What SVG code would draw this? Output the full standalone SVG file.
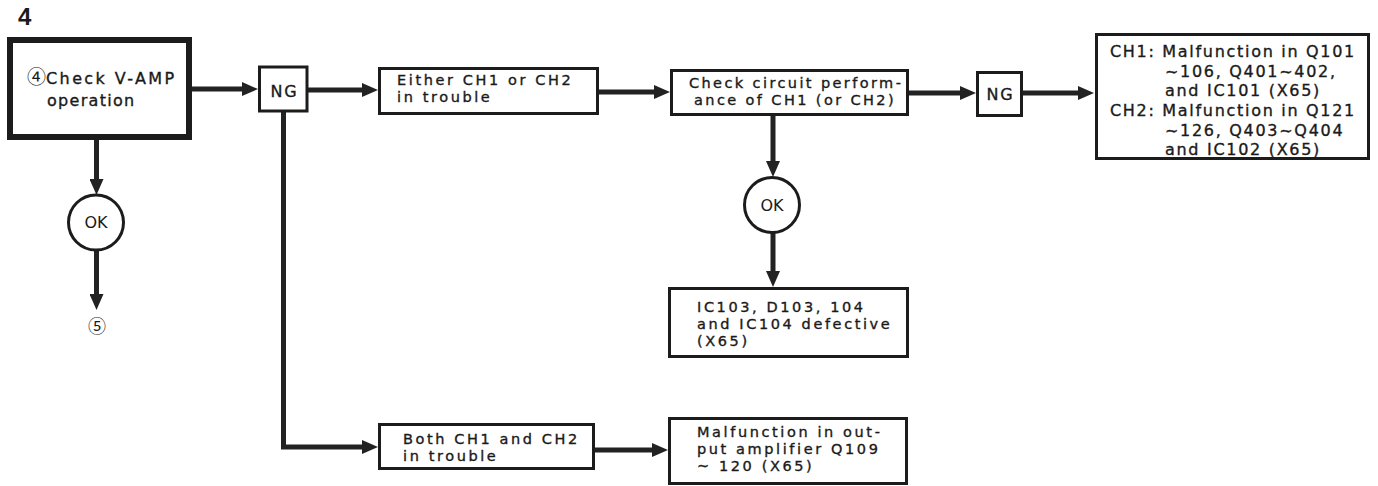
<svg xmlns="http://www.w3.org/2000/svg" width="1378" height="486" viewBox="0 0 1378 486">
<defs>
<style>
.bg{fill:#ffffff}
.box{fill:#ffffff;stroke:#1c1c1c;stroke-width:3}
.main{fill:#ffffff;stroke:#1c1c1c;stroke-width:6}
.circ{fill:#ffffff;stroke:#1c1c1c;stroke-width:3}
.ln{fill:none;stroke:#222;stroke-width:5}
.t{font-family:"DejaVu Sans","Noto Sans CJK JP",sans-serif;font-size:14.5px;letter-spacing:2.6px;fill:#1a1a1a;stroke:#1a1a1a;stroke-width:0.35px}
.tl{font-size:16px;letter-spacing:1.7px}
.cj{font-family:"Noto Sans CJK JP",sans-serif;letter-spacing:0;stroke-width:0}
.ok{font-family:"DejaVu Sans",sans-serif;font-size:16px;fill:#1a1a1a;text-anchor:middle}
.c{text-anchor:middle}
</style>
<marker id="ah" markerUnits="userSpaceOnUse" markerWidth="16" markerHeight="14" refX="2" refY="7" orient="auto">
<path d="M0,0 L16,7 L0,14 z" fill="#222"/>
</marker>
</defs>
<rect class="bg" x="0" y="0" width="1378" height="486"/>
<text x="18" y="25" font-family="Liberation Sans,Arial,sans-serif" font-weight="bold" font-size="24" fill="#1a1a1a">4</text>

<g id="connectors">
<line class="ln" x1="191" y1="89" x2="244" y2="89" marker-end="url(#ah)"/>
<line class="ln" x1="308" y1="90" x2="364" y2="90" marker-end="url(#ah)"/>
<line class="ln" x1="599" y1="92" x2="656" y2="92" marker-end="url(#ah)"/>
<line class="ln" x1="909" y1="93" x2="962" y2="93" marker-end="url(#ah)"/>
<line class="ln" x1="1023" y1="93" x2="1080" y2="93" marker-end="url(#ah)"/>
<line class="ln" x1="773" y1="116" x2="773" y2="163" marker-end="url(#ah)"/>
<line class="ln" x1="773" y1="232" x2="773" y2="273" marker-end="url(#ah)"/>
<line class="ln" x1="96.5" y1="140" x2="96.5" y2="181" marker-end="url(#ah)"/>
<line class="ln" x1="96.5" y1="250" x2="96.5" y2="296" marker-end="url(#ah)"/>
<polyline class="ln" points="283.5,112 283.5,447 364,447" marker-end="url(#ah)"/>
<line class="ln" x1="595" y1="450" x2="654" y2="450" marker-end="url(#ah)"/>
</g>

<g id="check-vamp">
<rect class="main" x="10" y="40" width="179" height="97"/>
<text class="t tl" x="27" y="84" style="letter-spacing:2.4px"><tspan class="cj" font-size="19">④</tspan>Check V-AMP</text>
<text class="t tl" x="47" y="106" style="letter-spacing:1.3px">operation</text>
</g>

<g id="ok1">
<circle class="circ" cx="96" cy="222.5" r="27.5"/>
<text class="ok" x="96" y="228">OK</text>
</g>

<g id="next5">
<text x="97" y="333" font-family="Noto Sans CJK JP,sans-serif" font-size="18" fill="#1a1a1a" text-anchor="middle">⑤</text>
</g>

<g id="ng1">
<rect class="box" x="259.5" y="67" width="47.5" height="44"/>
<text class="t tl c" x="284.5" y="97">NG</text>
</g>

<g id="either">
<rect class="box" x="379.5" y="68.5" width="218" height="45"/>
<text class="t" x="397" y="85">Either CH1 or CH2</text>
<text class="t" x="397" y="102">in trouble</text>
</g>

<g id="check-circuit">
<rect class="box" x="671.5" y="70.5" width="236" height="44"/>
<text class="t" x="689" y="88" style="letter-spacing:2.4px">Check circuit perform-</text>
<text class="t" x="694" y="105" style="letter-spacing:2.4px">ance of CH1 (or CH2)</text>
</g>

<g id="ng2">
<rect class="box" x="977.5" y="72.5" width="44" height="43"/>
<text class="t tl c" x="1000.5" y="100">NG</text>
</g>

<g id="malfunction-ch">
<rect class="box" x="1096.5" y="34.5" width="272" height="124"/>
<text class="t tl" x="1110" y="57">CH1: Malfunction in Q101</text>
<text class="t tl" x="1165" y="77">~106, Q401~402,</text>
<text class="t tl" x="1165" y="96">and IC101 (X65)</text>
<text class="t tl" x="1110" y="116">CH2: Malfunction in Q121</text>
<text class="t tl" x="1165" y="136">~126, Q403~Q404</text>
<text class="t tl" x="1165" y="155">and IC102 (X65)</text>
</g>

<g id="ok2">
<circle class="circ" cx="772" cy="205" r="27.5"/>
<text class="ok" x="772" y="211">OK</text>
</g>

<g id="ic103">
<rect class="box" x="669.5" y="288.5" width="238" height="68"/>
<text class="t" x="697" y="312">IC103, D103, 104</text>
<text class="t" x="697" y="329">and IC104 defective</text>
<text class="t" x="697" y="346">(X65)</text>
</g>

<g id="both">
<rect class="box" x="379.5" y="424.5" width="214" height="44"/>
<text class="t" x="403" y="444">Both CH1 and CH2</text>
<text class="t" x="403" y="461">in trouble</text>
</g>

<g id="output-amp">
<rect class="box" x="669.5" y="418.5" width="237" height="65"/>
<text class="t" x="697" y="437">Malfunction in out-</text>
<text class="t" x="697" y="454">put amplifier Q109</text>
<text class="t" x="697" y="471">~ 120 (X65)</text>
</g>
</svg>
